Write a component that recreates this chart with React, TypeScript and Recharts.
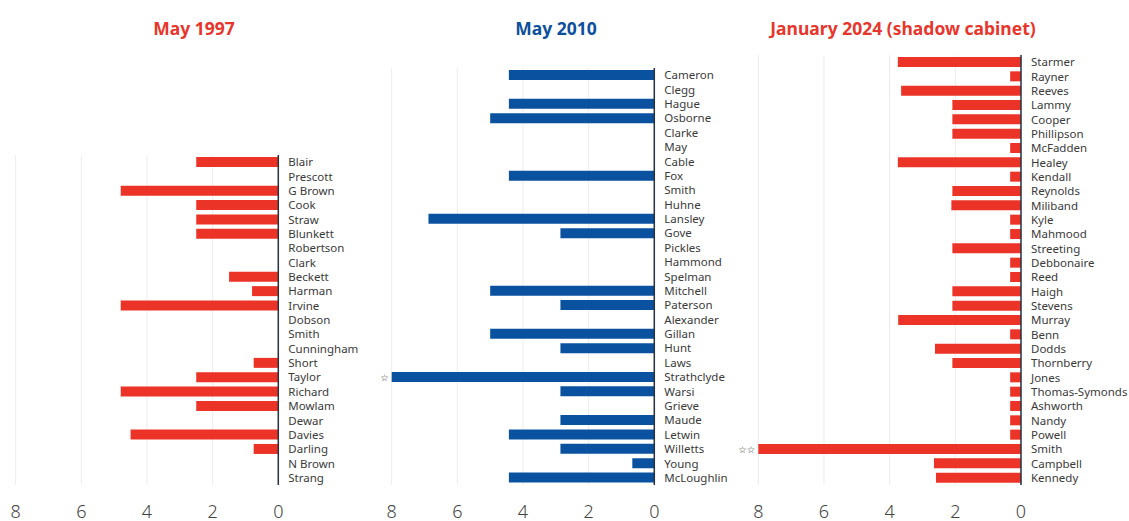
import React from "react";
import { BarChart, Bar, XAxis, YAxis, CartesianGrid } from "recharts";

// ---- Data ----
const names1997 = ["Blair","Prescott","G Brown","Cook","Straw","Blunkett","Robertson","Clark","Beckett","Harman","Irvine","Dobson","Smith","Cunningham","Short","Taylor","Richard","Mowlam","Dewar","Davies","Darling","N Brown","Strang"];
const values1997 = [2.5,0,4.8,2.5,2.5,2.5,0,0,1.5,0.8,4.8,0,0,0,0.75,2.5,4.8,2.5,0,4.5,0.75,0,0];
const notes1997: Record<string, string> = {};

const names2010 = ["Cameron","Clegg","Hague","Osborne","Clarke","May","Cable","Fox","Smith","Huhne","Lansley","Gove","Pickles","Hammond","Spelman","Mitchell","Paterson","Alexander","Gillan","Hunt","Laws","Strathclyde","Warsi","Grieve","Maude","Letwin","Willetts","Young","McLoughlin"];
const values2010 = [4.43,0,4.43,5.0,0,0,0,4.43,0,0,6.88,2.86,0,0,0,5.0,2.86,0,5.0,2.86,0,8,2.86,0,2.86,4.43,2.86,0.67,4.43];
const notes2010: Record<string, string> = { Strathclyde: "☆" };

const names2024 = ["Starmer","Rayner","Reeves","Lammy","Cooper","Phillipson","McFadden","Healey","Kendall","Reynolds","Miliband","Kyle","Mahmood","Streeting","Debbonaire","Reed","Haigh","Stevens","Murray","Benn","Dodds","Thornberry","Jones","Thomas-Symonds","Ashworth","Nandy","Powell","Smith","Campbell","Kennedy"];
const values2024 = [3.75,0.33,3.65,2.09,2.09,2.09,0.33,3.75,0.33,2.09,2.12,0.33,0.33,2.09,0.33,0.33,2.09,2.09,3.74,0.33,2.62,2.09,0.33,0.33,0.33,0.33,0.33,8,2.65,2.59];
const notes2024: Record<string, string> = { Smith: "☆☆" };

const xTicks = [0, 2, 4, 6, 8];

const titles = ["May 1997", "May 2010", "January 2024 (shadow cabinet)"];

const RED = "#EC3327";
const BLUE = "#0A52A0";
const FONT = "'Noto Sans', sans-serif";

const build = (names: string[], values: number[]) =>
  names.map((n, i) => ({ name: n, value: values[i] }));

type PanelProps = {
  names: string[];
  values: number[];
  notes: Record<string, string>;
  color: string;
  left: number;
  width: number;
  top: number;
  marginLeft: number;
  noteWidth: number;
  marginRight: number;
  yWidth: number;
};

const XTick = (props: any) => {
  const { x, y, payload } = props;
  return (
    <text x={x} y={y} dy={32.5} textAnchor="middle" fontSize={18} fill="#444" fontFamily={FONT} fontWeight={300}>
      {payload.value}
    </text>
  );
};

const Panel = ({ names, values, notes, color, left, width, top, marginLeft, noteWidth, marginRight, yWidth }: PanelProps) => {
  const data = build(names, values);
  return (
    <div style={{ position: "absolute", left, top: 0 }}>
      <BarChart
        width={width}
        height={521}
        data={data}
        layout="vertical"
        margin={{ top, right: marginRight, left: marginLeft, bottom: 0 }}
      >
        <CartesianGrid horizontal={false} stroke="#ececec" yAxisId="main" />
        <XAxis
          type="number"
          domain={[0, 8]}
          ticks={xTicks}
          reversed
          axisLine={false}
          tickLine={false}
          tickSize={0}
          tickMargin={0}
          height={36}
          tick={<XTick />}
          interval={0}
        />
        <YAxis
          yAxisId="notes"
          type="category"
          dataKey="name"
          orientation="left"
          width={noteWidth}
          axisLine={false}
          tickLine={false}
          tickSize={0}
          tickMargin={3}
          interval={0}
          tickFormatter={(n: string) => notes[n] || ""}
          tick={{ fontSize: 9.5, fill: "#444", fontFamily: "'DejaVu Sans', sans-serif" }}
        />
        <YAxis
          yAxisId="main"
          type="category"
          dataKey="name"
          orientation="right"
          width={yWidth}
          axisLine={{ stroke: "#26323f", strokeWidth: 1.5 }}
          tickLine={false}
          tickSize={0}
          tickMargin={10}
          interval={0}
          tick={{ fontSize: 11.5, fill: "#3a3a3a", fontFamily: FONT }}
        />
        <Bar yAxisId="main" dataKey="value" fill={color} barSize={10} isAnimationActive={false} />
      </BarChart>
    </div>
  );
};

const Title = ({ text, cx, color }: { text: string; cx: number; color: string }) => (
  <div
    style={{
      position: "absolute",
      left: cx - 200,
      width: 400,
      top: 18,
      textAlign: "center",
      fontFamily: FONT,
      fontSize: 17.5,
      fontWeight: 700,
      lineHeight: "20px",
      color,
    }}
  >
    {text}
  </div>
);

export default function App() {
  return (
    <div style={{ position: "absolute", left: 0, top: 0, width: 1129, height: 521, background: "#fff", overflow: "hidden" }}>
      <Title text={titles[0]} cx={194} color="#E8362C" />
      <Title text={titles[1]} cx={556} color="#0D4F9C" />
      <Title text={titles[2]} cx={903} color="#E8362C" />
      <Panel names={names1997} values={values1997} notes={notes1997} color={RED}
        left={0} width={370} top={155} marginLeft={5.7} noteWidth={10} marginRight={6.7} yWidth={85} />
      <Panel names={names2010} values={values2010} notes={notes2010} color={BLUE}
        left={360} width={390} top={68} marginLeft={6.7} noteWidth={25} marginRight={10.7} yWidth={85} />
      <Panel names={names2024} values={values2024} notes={notes2024} color={RED}
        left={725} width={404} top={55} marginLeft={8.3} noteWidth={25} marginRight={0} yWidth={108} />
    </div>
  );
}
